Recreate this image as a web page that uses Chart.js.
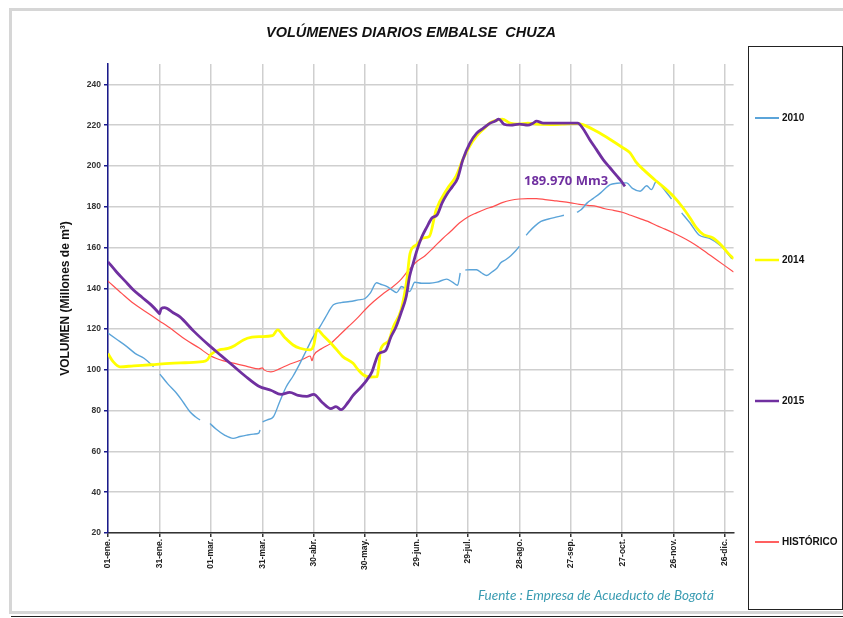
<!DOCTYPE html>
<html>
<head>
<meta charset="utf-8">
<script src="https://cdn.jsdelivr.net/npm/chart.js@4.4.1/dist/chart.umd.min.js"></script>
<style>
  html, body { margin: 0; padding: 0; background: #ffffff; }
  #wrap { width: 843px; height: 618px; }
</style>
</head>
<body>
<div id="wrap"><canvas id="c" width="843" height="618"></canvas></div>
<script>
// ---- Tick labels (day of year, leap-year calendar) ----
const tickDays = [0, 30, 60, 90, 120, 150, 180, 210, 240, 270, 300, 330, 360];
const tickLabels = ['01-ene.', '31-ene.', '01-mar.', '31-mar.', '30-abr.', '30-may.', '29-jun.', '29-jul.', '28-ago.', '27-sep.', '27-oct.', '26-nov.', '26-dic.'];
const yTicks = [20, 40, 60, 80, 100, 120, 140, 160, 180, 200, 220, 240];

// ---- 2010 (gaps = null) ----
const days2010 = [0,5,11,16,21,26.6,27.5,30.3,35,40,44,47.8,51,53.7,56,59.5,63,68,73,77,81,85,88,88.7,89.4,90.2,93,96.5,100,104,108,112,116,119.8,123.7,127,131.5,136,141,146,150,153,156.7,159,162.6,166,168.4,171.3,174,176,179,183,187.5,192,197.6,201,204,205.5,206.5,208.5,211,215,218,221,224,227,229,232,235,238,240,241,244,246,249,252.6,257,262,266,267,273.6,276,279.6,283,287.4,293,297,299.7,302.6,306,310.5,314.3,317,320,323.8,328.8,330,334.7,339.6,345,351,358,364];
const vals2010 = [118,115,111.4,108,105.7,101.6,null,97.9,93,88.5,84,79.5,77,75.4,null,73.7,71,68,66.4,67.3,68,68.5,69,70.5,null,74.5,75.5,77,84,91.7,97,103.2,110,116.3,121.2,126,131.9,133,133.5,134.3,135,137.6,142.7,142,140.9,139,137.9,140.9,139.5,138.4,143,142.5,142.5,143,144.5,143,141.5,147.5,null,149,149.1,149.1,147.5,146.3,148,150,152.4,154,156,158.5,160.5,null,166,168,170.5,172.8,174,175,175.8,null,177.3,178.5,181.9,184,186.8,190.8,191.5,191.7,191.7,189,187.6,190.3,188.4,192.5,189.2,183.8,null,177,172,166,164.5,160.5,154.5];

// ---- 2014 ----
const days2014 = [0,3,7,15,25,36,45,55,58,60,65,70,74,79,84,89,96,99,103,108,112,118,120,122,126,131,137,143,146,149,153,157,158,159,163.5,166.5,171,174.3,176.2,180,184,187.5,191.5,197.6,203,207,211,215,219,223,227,230,234.5,240,245,250,258,265,273.6,277,285,293,300.6,304.6,308,312.4,320,325,330,335,339.6,343,347.4,353,358,362,365];
const vals2014 = [108,104,101.5,102,102.5,103.2,103.5,104,105,107.5,109.8,110.5,112,114.7,116,116.3,116.8,119.6,116,112.2,110.6,109.8,112,119.6,116.5,112.2,106.5,103.2,100,97.5,96.5,96.7,102,109.8,113.9,121.2,129.4,144,157,161.4,164.7,165.5,178.6,188.4,194.9,203.1,209.7,214.6,218,221.2,222.5,223,221,220.5,221,220.5,220.3,220.5,220.8,220.3,217,213,208.8,206.4,202,198.2,192.5,189,185,180,174.5,170,166.3,164.7,161,157,154.5];

// ---- 2015 ----
const days2015 = [0,5,10,15,20,25,29,30,31,33,38,42,50,59,66,73,80,88,95,101,106,111,116,120,125,130,133,136,140,143,147,151,154,156,158,162,165,168,171,174,176,178,180,183,186,189,192,195,198,201,204,207,211,215,219,223,226,228,231,235,240,245,248,250,254,258,262,266,270,274,277,281,285,289,293,297,299,301.6];
const vals2015 = [153,148,143.5,139,135.5,132,128.5,127.5,130,130.5,128,126,119,112,107,102,97,92,90,88,89,87.5,87,88,84,81,82,80.5,84,87.5,91,95,99,104,108,109.5,116,121,128,136,146,152,158,165,170,174.5,176,182,186.5,190,194,203,211,216,218.5,221,222,223,220.5,220,220.5,220,221,222,221,221,221,221,221,221,218.5,213,208,203,199,195,193,190];

// ---- HISTÓRICO ----
const daysHist = [0,8,15,22,30,37,45,53,60,67,75,82,88,90,91,95,100,105,110,115,118,119,120,125,130,135,140,145,150,155,160,165,170,175,180,185,190,195,200,205,210,215,220,225,230,235,240,245,250,255,260,265,270,275,280,285,290,295,300,305,310,315,320,325,330,335,340,345,350,355,360,365];
const valsHist = [143.5,137.5,132.5,128.5,124,120,115,110.8,106.8,104.5,102.9,101.5,100.5,101,100,99,100.5,102.4,104,105.7,106.8,104.5,107,110.6,113,117,121,125,129.5,133.5,137,140,143.5,148.5,153,156,160,164.2,168,172,175,177,178.8,180.2,182,183.2,183.8,184,184,183.5,183,182.5,181.9,181.2,180.7,180.2,179,178.2,177.3,175.8,174.3,172.8,170.8,169,167.1,165,162.7,160,157,154,151,148];

// ---- Texts ----
const chartTitle = 'VOLÚMENES DIARIOS EMBALSE  CHUZA';
const yTitle = 'VOLUMEN (Millones de m³)';
const annotationText = '189.970 Mm3';
const annotationDay = 242.7;
const annotationValue = 192.3;
const sourceText = 'Fuente : Empresa de Acueducto de Bogotá';

function pts(days, vals) { return days.map((d, i) => ({ x: d, y: vals[i] })); }

const series = [
  { label: '2010', days: days2010, vals: vals2010, color: '#5ba4d9', width: 1.4, order: 2, legendY: 118, legendW: 2 },
  { label: '2014', days: days2014, vals: vals2014, color: '#ffff00', width: 2.8, order: 1, legendY: 260, legendW: 2.5 },
  { label: '2015', days: days2015, vals: vals2015, color: '#7030a0', width: 2.8, order: 0, legendY: 401, legendW: 2.5 },
  { label: 'HISTÓRICO', days: daysHist, vals: valsHist, color: '#ff4f4f', width: 1.2, order: 3, legendY: 542, legendW: 1.8 }
];

const decorPlugin = {
  id: 'decor',
  beforeDraw(chart) {
    const ctx = chart.ctx;
    ctx.save();
    ctx.fillStyle = '#ffffff';
    ctx.fillRect(0, 0, chart.width, chart.height);
    // outer frame
    ctx.strokeStyle = '#d6d6d6';
    ctx.lineWidth = 3;
    ctx.beginPath();
    ctx.moveTo(850, 9.5); ctx.lineTo(10.5, 9.5); ctx.lineTo(10.5, 612.5); ctx.lineTo(850, 612.5);
    ctx.stroke();
    ctx.strokeStyle = '#222';
    ctx.lineWidth = 1;
    ctx.beginPath();
    ctx.moveTo(11, 616.5); ctx.lineTo(843, 616.5);
    ctx.stroke();
    ctx.restore();
  },
  afterDraw(chart) {
    const ctx = chart.ctx;
    ctx.save();
    // title
    ctx.fillStyle = '#111';
    ctx.font = 'italic bold 14.5px "Liberation Sans", Arial, sans-serif';
    ctx.textAlign = 'center';
    ctx.textBaseline = 'middle';
    ctx.fillText(chartTitle, 411, 33);
    // legend box
    ctx.strokeStyle = '#222';
    ctx.lineWidth = 1;
    ctx.strokeRect(748.5, 46.5, 94, 563);
    ctx.font = 'bold 10px "Liberation Sans", Arial, sans-serif';
    ctx.textAlign = 'left';
    chart.data.datasets.forEach((ds, i) => {
      const s = series[i];
      ctx.strokeStyle = ds.borderColor;
      ctx.lineWidth = s.legendW;
      ctx.beginPath();
      ctx.moveTo(755, s.legendY); ctx.lineTo(779, s.legendY);
      ctx.stroke();
      ctx.fillStyle = '#111';
      ctx.fillText(ds.label, 782, s.legendY + 0.5);
    });
    // annotation
    const xs = chart.scales.x, ys = chart.scales.y;
    ctx.fillStyle = '#7030a0';
    ctx.font = 'bold 13px "Open Sans", sans-serif';
    ctx.textAlign = 'left';
    ctx.fillText(annotationText, xs.getPixelForValue(annotationDay), ys.getPixelForValue(annotationValue));
    // source
    ctx.fillStyle = '#3a9cb2';
    ctx.font = 'italic 13.5px Lato, sans-serif';
    ctx.fillText(sourceText, 478, 596);
    ctx.restore();
  }
};

new Chart(document.getElementById('c'), {
  type: 'line',
  data: {
    datasets: series.map(s => ({
      label: s.label,
      data: pts(s.days, s.vals),
      borderColor: s.color,
      backgroundColor: s.color,
      borderWidth: s.width,
      pointRadius: 0,
      spanGaps: false,
      cubicInterpolationMode: 'monotone',
      order: s.order,
      fill: false
    }))
  },
  options: {
    responsive: false,
    devicePixelRatio: 1,
    animation: false,
    layout: { padding: { left: 58, right: 109.4, top: 64, bottom: 0 } },
    plugins: { legend: { display: false }, title: { display: false }, tooltip: { enabled: false } },
    scales: {
      x: {
        type: 'linear',
        min: 0,
        max: 365,
        afterBuildTicks: s => { s.ticks = tickDays.map(v => ({ value: v })); },
        afterFit: s => { s.height = 85; },
        ticks: {
          autoSkip: false,
          minRotation: 90,
          maxRotation: 90,
          padding: 2,
          color: '#222',
          font: { family: '"Liberation Sans", Arial, sans-serif', size: 8.5, weight: 'bold' },
          callback: v => tickLabels[tickDays.indexOf(v)]
        },
        grid: { color: '#cfcfcf', lineWidth: 1.5, tickLength: 4, tickColor: '#333' },
        border: { color: '#333', width: 1.5 }
      },
      y: {
        type: 'linear',
        min: 20,
        max: 250,
        afterBuildTicks: s => { s.ticks = yTicks.map(v => ({ value: v })); },
        afterFit: s => { s.width = 50; },
        ticks: {
          padding: 3,
          color: '#333',
          font: { family: '"Liberation Sans", Arial, sans-serif', size: 8.5, weight: 'bold' }
        },
        grid: { color: '#cfcfcf', lineWidth: 1.5, tickLength: 4, tickColor: '#1a1a8c' },
        border: { color: '#1a1a8c', width: 1.5 },
        title: {
          display: true,
          text: yTitle,
          color: '#111',
          padding: { top: 0, bottom: 0 },
          font: { family: '"Liberation Sans", Arial, sans-serif', size: 12, weight: 'bold' }
        }
      }
    }
  },
  plugins: [decorPlugin]
});
</script>
</body>
</html>
